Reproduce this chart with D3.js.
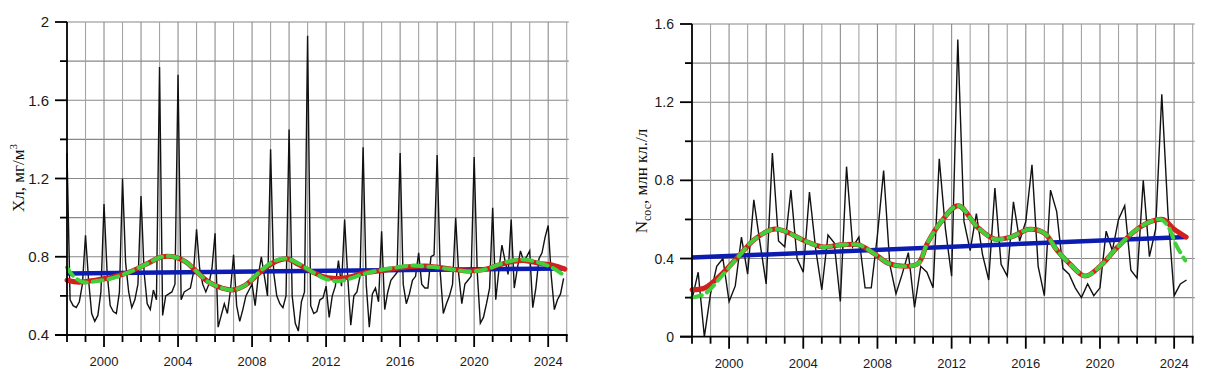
<!DOCTYPE html>
<html><head><meta charset="utf-8">
<script src="https://cdn.jsdelivr.net/npm/d3@7"></script>
<style>body{margin:0;background:#fff} svg{display:block}</style>
</head><body><svg id="c" width="1210" height="382"></svg>
<script>
// ---------- LEFT PANEL DATA (chlorophyll, 6 samples per year, 1998–2024) ----------
const chlYears = d3.range(1998, 2025);
const chlValues = [
 1.33,0.58,0.55,0.54,0.57,0.66,   // 1998
 0.91,0.68,0.51,0.47,0.50,0.62,   // 1999
 1.07,0.72,0.55,0.52,0.51,0.62,   // 2000
 1.20,0.77,0.62,0.54,0.58,0.66,   // 2001
 1.11,0.72,0.56,0.53,0.63,0.58,   // 2002
 1.77,0.50,0.60,0.61,0.62,0.66,   // 2003
 1.73,0.58,0.62,0.63,0.64,0.72,   // 2004
 0.94,0.74,0.66,0.62,0.66,0.74,   // 2005
 0.92,0.44,0.50,0.56,0.51,0.63,   // 2006
 0.81,0.55,0.47,0.53,0.60,0.63,   // 2007
 0.66,0.55,0.70,0.80,0.70,0.60,   // 2008
 1.35,0.72,0.60,0.56,0.54,0.60,   // 2009
 1.45,0.60,0.46,0.42,0.57,0.62,   // 2010
 1.93,0.55,0.51,0.52,0.58,0.59,   // 2011
 0.65,0.49,0.60,0.65,0.78,0.65,   // 2012
 0.99,0.70,0.45,0.60,0.62,0.70,   // 2013
 1.36,0.66,0.44,0.61,0.64,0.57,   // 2014
 0.93,0.53,0.62,0.68,0.70,0.72,   // 2015
 1.33,0.66,0.56,0.61,0.68,0.70,   // 2016
 0.82,0.66,0.64,0.64,0.80,0.81,   // 2017
 1.32,0.72,0.51,0.56,0.60,0.66,   // 2018
 1.00,0.71,0.56,0.66,0.68,0.70,   // 2019
 1.31,0.72,0.46,0.49,0.56,0.64,   // 2020
 1.05,0.58,0.73,0.86,0.78,0.71,   // 2021
 0.99,0.64,0.74,0.83,0.78,0.80,   // 2022
 0.83,0.54,0.64,0.79,0.82,0.90,   // 2023
 0.96,0.70,0.53,0.58,0.61,0.69    // 2024
];
const chlPerYear = 6;
// smoothed curve (red)
const chlSmoothT = [1998.0,1998.63,1999.53,2000.43,2001.33,2002.23,2003.14,2003.77,2004.4,2004.94,2005.66,2006.38,2006.92,2007.64,2008.54,2009.26,2009.89,2010.52,2011.3,2011.8,2012.4,2012.9,2013.4,2013.95,2014.85,2015.75,2016.65,2017.37,2018.09,2018.81,2019.71,2020.61,2021.33,2022.05,2022.77,2023.5,2024.2,2024.9];
const chlSmoothV = [0.68,0.67,0.68,0.695,0.72,0.76,0.80,0.80,0.775,0.73,0.67,0.64,0.63,0.655,0.73,0.775,0.79,0.76,0.72,0.70,0.69,0.69,0.70,0.715,0.727,0.74,0.75,0.753,0.746,0.736,0.727,0.736,0.758,0.775,0.78,0.766,0.758,0.737];
// second smoothing (green dashed)
const chlAltT = [1998.0,1998.35,1998.9,1999.53,2000.43,2001.33,2002.23,2003.14,2003.77,2004.4,2004.94,2005.66,2006.38,2006.92,2007.64,2008.54,2009.26,2009.89,2010.52,2011.3,2011.9,2012.5,2013.0,2013.5,2013.95,2014.85,2015.75,2016.65,2017.37,2018.09,2018.81,2019.71,2020.61,2021.33,2022.05,2022.77,2023.5,2024.2,2024.85];
const chlAltV = [0.745,0.70,0.67,0.675,0.69,0.72,0.76,0.80,0.80,0.775,0.73,0.67,0.64,0.63,0.655,0.735,0.78,0.79,0.765,0.72,0.69,0.675,0.68,0.695,0.71,0.73,0.745,0.755,0.75,0.745,0.735,0.725,0.735,0.76,0.78,0.785,0.77,0.745,0.705];
const chlTrendT = [1998, 2024.9];
const chlTrendV = [0.715, 0.74];
const chlMajorY = [0.4, 0.8, 1.2, 1.6, 2.0];
const chlMajorYLabels = ["0.4", "0.8", "1.2", "1.6", "2"];
const chlMinorY = [0.6, 1.0, 1.4, 1.8];

// ---------- RIGHT PANEL DATA (cell numbers, 3 samples per year, 1998–2024) ----------
const cellValues = [
 0.19,0.33,0.00,  // 1998
 0.22,0.36,0.40,  // 1999
 0.18,0.26,0.51,  // 2000
 0.32,0.70,0.48,  // 2001
 0.27,0.94,0.49,  // 2002
 0.46,0.75,0.40,  // 2003
 0.33,0.74,0.45,  // 2004
 0.24,0.52,0.48,  // 2005
 0.18,0.87,0.46,  // 2006
 0.51,0.25,0.25,  // 2007
 0.52,0.85,0.37,  // 2008
 0.22,0.32,0.43,  // 2009
 0.15,0.36,0.33,  // 2010
 0.25,0.91,0.55,  // 2011
 0.31,1.52,0.59,  // 2012
 0.44,0.63,0.42,  // 2013
 0.29,0.76,0.37,  // 2014
 0.31,0.69,0.49,  // 2015
 0.59,0.88,0.36,  // 2016
 0.21,0.75,0.64,  // 2017
 0.35,0.32,0.25,  // 2018
 0.20,0.27,0.21,  // 2019
 0.25,0.54,0.44,  // 2020
 0.60,0.67,0.34,  // 2021
 0.30,0.80,0.41,  // 2022
 0.55,1.24,0.63,  // 2023
 0.21,0.27,0.29   // 2024
];
const cellPerYear = 3;
const cellSmoothT = [1998.0,1998.7,1999.6,2000.5,2001.4,2002.4,2003.0,2004.1,2005.0,2006.1,2007.0,2007.9,2008.6,2009.5,2010.2,2010.7,2011.45,2012.35,2013.4,2014.3,2015.2,2016.2,2017.0,2017.7,2018.4,2019.2,2020.0,2020.96,2022.0,2022.76,2023.4,2024.0,2024.65];
const cellSmoothV = [0.24,0.25,0.32,0.41,0.50,0.55,0.54,0.49,0.46,0.47,0.47,0.42,0.375,0.36,0.375,0.48,0.59,0.67,0.56,0.50,0.51,0.55,0.53,0.44,0.37,0.31,0.36,0.46,0.55,0.59,0.60,0.55,0.51];
const cellAltT = [1998.0,1998.7,1999.6,2000.5,2001.4,2002.4,2003.0,2004.1,2005.0,2006.1,2007.0,2007.9,2008.6,2009.5,2010.2,2010.7,2011.45,2012.35,2013.4,2014.3,2015.2,2016.2,2017.0,2017.7,2018.4,2019.2,2020.0,2020.96,2022.0,2022.76,2023.3,2023.7,2024.1,2024.6];
const cellAltV = [0.20,0.22,0.31,0.41,0.50,0.55,0.54,0.49,0.46,0.47,0.47,0.42,0.375,0.36,0.375,0.48,0.59,0.67,0.56,0.50,0.51,0.55,0.53,0.44,0.37,0.31,0.36,0.46,0.55,0.59,0.60,0.56,0.47,0.39];
const cellTrendT = [1998, 2024.65];
const cellTrendV = [0.405, 0.51];
const cellMajorY = [0, 0.4, 0.8, 1.2, 1.6];
const cellMajorYLabels = ["0", "0.4", "0.8", "1.2", "1.6"];
const cellMinorY = [0.2, 0.6, 1.0, 1.4];

// ---------- SHARED X TICKS ----------
const xMajorYears = [2000, 2004, 2008, 2012, 2016, 2020, 2024];
const xAllYears = d3.range(1998, 2026);

const svg = d3.select("#c");

function drawPanel(o) {
  const x = d3.scaleLinear().domain([1998, 2025]).range([o.x0, o.x1]);
  const y = d3.scaleLinear().domain(o.yDomain).range([o.yBottom, o.yTop]);
  const g = svg.append("g");

  // grid
  const step = 0.2;
  const hGrid = d3.range(o.yDomain[0] + step, o.yDomain[1] + 1e-6, step);
  g.selectAll(".hg").data(hGrid).join("line")
    .attr("x1", o.x0).attr("x2", o.x1 + 2)
    .attr("y1", d => y(d)).attr("y2", d => y(d))
    .attr("stroke", "#888").attr("stroke-width", 1.1);
  g.selectAll(".vg").data(xAllYears.slice(1)).join("line")
    .attr("x1", d => x(d)).attr("x2", d => x(d))
    .attr("y1", o.yTop).attr("y2", o.yBottom)
    .attr("stroke", (d, i) => i % 2 ? "#8c8c8c" : "#a4a4a4").attr("stroke-width", 1.1);

  // series
  const pts = o.values.map((v, i) => [1998 + i / o.perYear, v]);
  const line = d3.line().x(d => x(d[0])).y(d => y(d[1]));
  g.append("path").datum(pts).attr("d", line)
    .attr("fill", "none").attr("stroke", "#111").attr("stroke-width", 1.4)
    .attr("stroke-linejoin", "miter");

  const trend = o.trendT.map((t, i) => [t, o.trendV[i]]);
  g.append("path").datum(trend).attr("d", line)
    .attr("fill", "none").attr("stroke", "#0c1cb0").attr("stroke-width", 4.5);

  const smoothLine = d3.line().x(d => x(d[0])).y(d => y(d[1])).curve(d3.curveCatmullRom.alpha(0.5));
  const sm = o.smT.map((t, i) => [t, o.smV[i]]);
  g.append("path").datum(sm).attr("d", smoothLine)
    .attr("fill", "none").attr("stroke", "#d2201f").attr("stroke-width", 5).attr("stroke-linecap", "round");
  const alt = o.altT.map((t, i) => [t, o.altV[i]]);
  g.append("path").datum(alt).attr("d", smoothLine)
    .attr("fill", "none").attr("stroke", "#3fd03a").attr("stroke-width", 4)
    .attr("stroke-dasharray", "10,6").attr("stroke-linecap", "round");

  // axes
  g.append("line").attr("x1", o.x0).attr("x2", o.x0).attr("y1", o.yTop).attr("y2", o.yBottom)
    .attr("stroke", "#000").attr("stroke-width", 1.8);
  g.append("line").attr("x1", o.x0 - 12).attr("x2", o.x1 + 1).attr("y1", o.yBottom).attr("y2", o.yBottom)
    .attr("stroke", "#000").attr("stroke-width", 1.8);

  // y ticks
  g.selectAll(".ymj").data(o.majorY).join("line")
    .attr("x1", o.x0 - 12).attr("x2", o.x0).attr("y1", d => y(d)).attr("y2", d => y(d))
    .attr("stroke", "#000").attr("stroke-width", 1.8);
  g.selectAll(".ymn").data(o.minorY).join("line")
    .attr("x1", o.x0 - 7).attr("x2", o.x0).attr("y1", d => y(d)).attr("y2", d => y(d))
    .attr("stroke", "#000").attr("stroke-width", 1.8);
  g.selectAll(".ylab").data(o.majorY).join("text")
    .attr("x", o.x0 - 18).attr("y", d => y(d)).attr("dy", "0.36em")
    .attr("text-anchor", "end").attr("font-family", "Liberation Sans, Arial, sans-serif")
    .attr("font-size", o.yFont).attr("fill", "#1a1a1a")
    .text((d, i) => o.majorYLabels[i]);

  // x ticks
  g.selectAll(".xt").data(xAllYears).join("line")
    .attr("x1", d => x(d)).attr("x2", d => x(d))
    .attr("y1", o.yBottom).attr("y2", d => o.yBottom + (xMajorYears.includes(d) ? 12 : 7))
    .attr("stroke", "#000").attr("stroke-width", 1.8);
  g.selectAll(".xl").data(xMajorYears).join("text")
    .attr("x", d => x(d)).attr("y", o.yBottom + 31)
    .attr("text-anchor", "middle").attr("font-family", "Liberation Sans, Arial, sans-serif")
    .attr("font-size", 13).attr("fill", "#1a1a1a")
    .text(d => d);

  return g;
}

const gL = drawPanel({
  x0: 67, x1: 566.7, yTop: 22, yBottom: 335, yDomain: [0.4, 2.0],
  values: chlValues, perYear: chlPerYear,
  smT: chlSmoothT, smV: chlSmoothV, altT: chlAltT, altV: chlAltV,
  trendT: chlTrendT, trendV: chlTrendV,
  majorY: chlMajorY, majorYLabels: chlMajorYLabels, minorY: chlMinorY, yFont: 15
});
const gR = drawPanel({
  x0: 692, x1: 1192.7, yTop: 24, yBottom: 336.7, yDomain: [0, 1.6],
  values: cellValues, perYear: cellPerYear,
  smT: cellSmoothT, smV: cellSmoothV, altT: cellAltT, altV: cellAltV,
  trendT: cellTrendT, trendV: cellTrendV,
  majorY: cellMajorY, majorYLabels: cellMajorYLabels, minorY: cellMinorY, yFont: 14
});

// y titles
const tL = svg.append("text")
  .attr("transform", "translate(24,178) rotate(-90)")
  .attr("text-anchor", "middle").attr("font-family", "Liberation Serif, Times New Roman, serif")
  .attr("font-size", 17).attr("fill", "#111");
tL.append("tspan").text("Хл, мг/м");
tL.append("tspan").attr("dy", -7).attr("font-size", 11).text("3");

const tR = svg.append("text")
  .attr("transform", "translate(647,181) rotate(-90)")
  .attr("text-anchor", "middle").attr("font-family", "Liberation Serif, Times New Roman, serif")
  .attr("font-size", 17).attr("fill", "#111");
tR.append("tspan").text("N");
tR.append("tspan").attr("dy", 4).attr("font-size", 12).text("сос");
tR.append("tspan").attr("dy", -4).text(", млн кл./л");
</script>
</body></html>
